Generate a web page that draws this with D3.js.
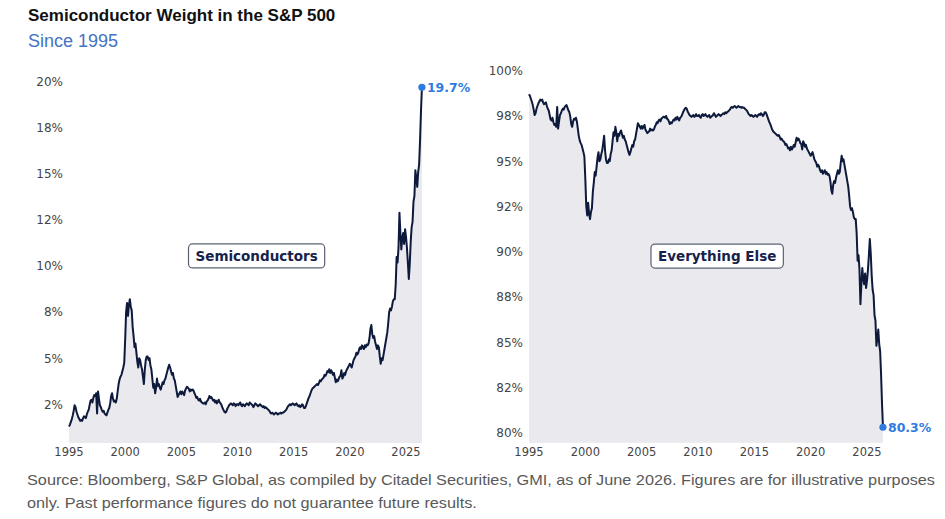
<!DOCTYPE html>
<html lang="en">
<head>
<meta charset="utf-8">
<title>Semiconductor Weight in the S&amp;P 500</title>
<script src="https://d3js.org/d3.v7.min.js"></script>
<style>
  body { margin: 0; background: #fff; }
  svg { display: block; }
  .tick-label { font-family: "DejaVu Sans", sans-serif; fill: #444; }
  .title { font-family: "Liberation Sans", Arial, sans-serif; font-weight: bold; fill: #111; }
  .subtitle { font-family: "Liberation Sans", Arial, sans-serif; fill: #4472c4; }
  .source { font-family: "Liberation Sans", Arial, sans-serif; fill: #595959; }
</style>
</head>
<body>
<script>
var width = 945,
    height = 519;

// monthly series, first value = Jan 1995
var startYear = 1995;

// Semiconductor weight in the S&P 500 (%)
var semis = [
  1.3, 1.4, 1.55, 1.7, 1.9, 2.15, 2.45, 2.35, 2.1, 1.95, 1.8, 1.7,        // 1995
  1.6, 1.65, 1.6, 1.75, 1.85, 1.8, 1.75, 1.95, 2.1, 2.2, 2.45, 2.7,      // 1996
  2.75, 2.6, 2.85, 3.0, 2.95, 3.1, 2.0, 3.2, 2.8, 2.45, 2.35, 2.2,       // 1997
  2.1, 2.15, 2.0, 1.95, 1.9, 2.05, 2.2, 2.3, 2.55, 2.95, 3.1, 2.8,       // 1998
  2.65, 2.7, 2.6, 2.8, 3.2, 3.6, 3.85, 4.0, 4.1, 4.3, 4.5, 4.75,         // 1999
  6.0, 7.5, 8.0, 7.3, 7.9, 8.2, 7.8, 7.6, 6.7, 6.2, 5.6, 5.8,            // 2000
  5.3, 4.8, 4.5, 5.0, 4.9, 4.6, 4.4, 4.0, 3.6, 4.4, 4.9, 5.1,            // 2001
  5.1, 4.9, 5.0, 4.6, 4.4, 3.9, 3.4, 3.6, 3.1, 3.4, 3.9, 3.5,            // 2002
  3.6, 3.4, 3.3, 3.5, 3.7, 3.6, 3.8, 3.9, 4.1, 4.3, 4.5, 4.65,           // 2003
  4.5, 4.3, 4.1, 4.2, 3.9, 3.8, 3.5, 3.2, 2.9, 3.0, 3.1, 3.2,            // 2004
  3.05, 3.2, 3.1, 3.0, 3.25, 3.35, 3.45, 3.4, 3.35, 3.2, 3.3, 3.25,      // 2005
  3.3, 3.25, 3.1, 3.0, 2.85, 2.9, 2.75, 2.7, 2.8, 2.65, 2.6, 2.55,       // 2006
  2.55, 2.6, 2.5, 2.65, 2.7, 2.8, 2.95, 2.85, 2.9, 2.8, 2.7, 2.75,       // 2007
  2.6, 2.7, 2.55, 2.65, 2.75, 2.6, 2.55, 2.45, 2.3, 2.2, 2.1, 2.05,      // 2008
  2.1, 2.25, 2.35, 2.45, 2.5, 2.55, 2.5, 2.45, 2.55, 2.5, 2.4, 2.5,      // 2009
  2.5, 2.45, 2.55, 2.6, 2.45, 2.4, 2.5, 2.45, 2.4, 2.5, 2.55, 2.5,       // 2010
  2.45, 2.6, 2.55, 2.5, 2.45, 2.35, 2.45, 2.55, 2.5, 2.45, 2.4, 2.45,    // 2011
  2.5, 2.45, 2.4, 2.35, 2.4, 2.3, 2.35, 2.3, 2.25, 2.2, 2.15, 2.05,      // 2012
  2.0, 2.05, 2.0, 1.95, 2.0, 2.05, 2.0, 1.95, 2.0, 2.0, 2.05, 2.0,       // 2013
  2.05, 2.05, 2.1, 2.15, 2.2, 2.3, 2.4, 2.45, 2.5, 2.45, 2.5, 2.55,      // 2014
  2.5, 2.45, 2.5, 2.55, 2.45, 2.4, 2.45, 2.35, 2.4, 2.5, 2.45, 2.3,      // 2015
  2.3, 2.4, 2.55, 2.7, 2.85, 2.95, 3.1, 3.25, 3.35, 3.4, 3.45, 3.5,      // 2016
  3.55, 3.6, 3.55, 3.65, 3.8, 3.75, 3.85, 3.9, 3.95, 4.1, 4.05, 4.15,    // 2017
  4.3, 4.25, 4.4, 4.2, 4.35, 4.25, 4.1, 4.2, 3.95, 3.7, 3.85, 3.75,      // 2018
  3.85, 4.0, 4.05, 4.35, 3.9, 4.0, 4.2, 4.1, 4.3, 4.4, 4.5, 4.6,         // 2019
  4.7, 4.6, 4.5, 4.7, 4.9, 5.0, 5.1, 5.3, 5.2, 5.3, 5.5, 5.6,            // 2020
  5.5, 5.7, 5.6, 5.5, 5.7, 5.6, 5.75, 5.7, 5.8, 6.1, 6.6, 6.8,           // 2021
  6.3, 6.1, 6.2, 5.9, 5.7, 5.5, 5.7, 5.6, 5.1, 4.7, 5.0, 4.9,            // 2022
  5.2, 5.5, 5.8, 6.1, 6.4, 6.9, 7.5, 7.7, 7.6, 7.8, 8.1, 8.2,            // 2023
  8.2, 9.0, 10.5, 10.2, 11.0, 12.9, 11.8, 10.9, 11.5, 11.8, 11.2, 12.0,  // 2024
  11.6, 11.0, 10.2, 9.3, 10.1, 11.3, 12.1, 12.4, 13.5, 13.8, 15.2, 14.8, // 2025
  14.3, 15.1, 15.5, 16.8, 18.4, 19.7                                     // 2026
];

// Everything else in the S&P 500 (%)
var everythingElse = [
  98.7, 98.6, 98.45, 98.3, 98.1, 97.85, 97.55, 97.65, 97.9, 98.05, 98.2, 98.3,
  98.4, 98.35, 98.4, 98.25, 98.15, 98.2, 98.25, 98.05, 97.9, 97.8, 97.55, 97.3,
  97.25, 97.4, 97.15, 97.0, 97.05, 96.9, 98.0, 96.8, 97.2, 97.55, 97.65, 97.8,
  97.9, 97.85, 98.0, 98.05, 98.1, 97.95, 97.8, 97.7, 97.45, 97.05, 96.9, 97.2,
  97.35, 97.3, 97.4, 97.2, 96.8, 96.4, 96.15, 96.0, 95.9, 95.7, 95.5, 95.25,
  94.0, 92.5, 92.0, 92.7, 92.1, 91.8, 92.2, 92.4, 93.3, 93.8, 94.4, 94.2,
  94.7, 95.2, 95.5, 95.0, 95.1, 95.4, 95.6, 96.0, 96.4, 95.6, 95.1, 94.9,
  94.9, 95.1, 95.0, 95.4, 95.6, 96.1, 96.6, 96.4, 96.9, 96.6, 96.1, 96.5,
  96.4, 96.6, 96.7, 96.5, 96.3, 96.4, 96.2, 96.1, 95.9, 95.7, 95.5, 95.35,
  95.5, 95.7, 95.9, 95.8, 96.1, 96.2, 96.5, 96.8, 97.1, 97.0, 96.9, 96.8,
  96.95, 96.8, 96.9, 97.0, 96.75, 96.65, 96.55, 96.6, 96.65, 96.8, 96.7, 96.75,
  96.7, 96.75, 96.9, 97.0, 97.15, 97.1, 97.25, 97.3, 97.2, 97.35, 97.4, 97.45,
  97.45, 97.4, 97.5, 97.35, 97.3, 97.2, 97.05, 97.15, 97.1, 97.2, 97.3, 97.25,
  97.4, 97.3, 97.45, 97.35, 97.25, 97.4, 97.45, 97.55, 97.7, 97.8, 97.9, 97.95,
  97.9, 97.75, 97.65, 97.55, 97.5, 97.45, 97.5, 97.55, 97.45, 97.5, 97.6, 97.5,
  97.5, 97.55, 97.45, 97.4, 97.55, 97.6, 97.5, 97.55, 97.6, 97.5, 97.45, 97.5,
  97.55, 97.4, 97.45, 97.5, 97.55, 97.65, 97.55, 97.45, 97.5, 97.55, 97.6, 97.55,
  97.5, 97.55, 97.6, 97.65, 97.6, 97.7, 97.65, 97.7, 97.75, 97.8, 97.85, 97.95,
  98.0, 97.95, 98.0, 98.05, 98.0, 97.95, 98.0, 98.05, 98.0, 98.0, 97.95, 98.0,
  97.95, 97.95, 97.9, 97.85, 97.8, 97.7, 97.6, 97.55, 97.5, 97.55, 97.5, 97.45,
  97.5, 97.55, 97.5, 97.45, 97.55, 97.6, 97.55, 97.65, 97.6, 97.5, 97.55, 97.7,
  97.7, 97.6, 97.45, 97.3, 97.15, 97.05, 96.9, 96.75, 96.65, 96.6, 96.55, 96.5,
  96.45, 96.4, 96.45, 96.35, 96.2, 96.25, 96.15, 96.1, 96.05, 95.9, 95.95, 95.85,
  95.7, 95.75, 95.6, 95.8, 95.65, 95.75, 95.9, 95.8, 96.05, 96.3, 96.15, 96.25,
  96.15, 96.0, 95.95, 95.65, 96.1, 96.0, 95.8, 95.9, 95.7, 95.6, 95.5, 95.4,
  95.3, 95.4, 95.5, 95.3, 95.1, 95.0, 94.9, 94.7, 94.8, 94.7, 94.5, 94.4,
  94.5, 94.3, 94.4, 94.5, 94.3, 94.4, 94.25, 94.3, 94.2, 93.9, 93.4, 93.2,
  93.7, 93.9, 93.8, 94.1, 94.3, 94.5, 94.3, 94.4, 94.9, 95.3, 95.0, 95.1,
  94.8, 94.5, 94.2, 93.9, 93.6, 93.1, 92.5, 92.3, 92.4, 92.2, 91.9, 91.8,
  91.8, 91.0, 89.5, 89.8, 89.0, 87.1, 88.2, 89.1, 88.5, 88.2, 88.8, 88.0,
  88.4, 89.0, 89.8, 90.7, 89.9, 88.7, 87.9, 87.6, 86.5, 86.2, 84.8, 85.2,
  85.7, 84.9, 84.5, 83.2, 81.6, 80.3
];

var yearTicks = [1995, 2000, 2005, 2010, 2015, 2020, 2025];
var semisTicks = [2.5, 5, 7.5, 10, 12.5, 15, 17.5, 20];
var semisTickLabels = ["2%", "5%", "8%", "10%", "12%", "15%", "18%", "20%"];
var elseTicks = [80, 82.5, 85, 87.5, 90, 92.5, 95, 97.5, 100];
var elseTickLabels = ["80%", "82%", "85%", "88%", "90%", "92%", "95%", "98%", "100%"];

var titleText = "Semiconductor Weight in the S&P 500";
var subtitleText = "Since 1995";
var sourceLines = [
  "Source: Bloomberg, S&P Global, as compiled by Citadel Securities, GMI, as of June 2026. Figures are for illustrative purposes",
  "only. Past performance figures do not guarantee future results."
];

var dates = semis.map(function(d, i) { return startYear + i / 12; });

var svg = d3.select("body").append("svg")
    .attr("width", width)
    .attr("height", height);

svg.append("text").attr("class", "title")
    .attr("x", 28).attr("y", 21)
    .style("font-size", "17px")
    .text(titleText);

svg.append("text").attr("class", "subtitle")
    .attr("x", 28).attr("y", 46.5)
    .style("font-size", "18px")
    .text(subtitleText);

function drawPanel(opt) {
    var x = d3.scaleLinear().domain([1995, 2025]).range(opt.xRange);
    var y = d3.scaleLinear().domain(opt.yDomain).range(opt.yRange);
    var g = svg.append("g");
    var pts = opt.values.map(function(v, i) { return [dates[i], v]; });

    var area = d3.area()
        .x(function(d) { return x(d[0]); })
        .y0(y(opt.base))
        .y1(function(d) { return y(d[1]); });

    var line = d3.line()
        .x(function(d) { return x(d[0]); })
        .y(function(d) { return y(d[1]); });

    g.append("path")
        .datum(pts)
        .attr("fill", "#e9e9ee")
        .attr("d", area);

    g.append("path")
        .datum(pts)
        .attr("fill", "none")
        .attr("stroke", "#0e1a3c")
        .attr("stroke-width", 2)
        .attr("stroke-linejoin", "round")
        .attr("d", line);

    // y tick labels (no axis line, no tick marks)
    g.selectAll(".ylab")
        .data(opt.yTicks)
        .enter().append("text")
        .attr("class", "tick-label")
        .attr("x", opt.xRange[0] - 6)
        .attr("y", function(d) { return y(d); })
        .attr("dy", "0.36em")
        .attr("text-anchor", "end")
        .style("font-size", "12px")
        .text(function(d, i) { return opt.yLabels[i]; });

    g.selectAll(".xlab")
        .data(yearTicks)
        .enter().append("text")
        .attr("class", "tick-label")
        .attr("x", function(d) { return x(d); })
        .attr("y", 451.7)
        .attr("dy", "0.36em")
        .attr("text-anchor", "middle")
        .style("font-size", "11.5px")
        .text(function(d) { return d; });

    // end point marker
    var last = pts[pts.length - 1];
    g.append("circle")
        .attr("cx", x(last[0]))
        .attr("cy", y(last[1]))
        .attr("r", 3.6)
        .attr("fill", "#2f7be0");

    g.append("text")
        .attr("x", x(last[0]) + 5)
        .attr("y", y(last[1]))
        .attr("dy", "0.36em")
        .attr("fill", "#2f7be0")
        .style("font-family", "'DejaVu Sans', sans-serif")
        .style("font-weight", "bold")
        .style("font-size", "12.5px")
        .text(last[1].toFixed(1) + "%");

    // series name box
    var lg = g.append("g")
        .attr("transform", "translate(" + x(opt.labelAt[0]) + "," + y(opt.labelAt[1]) + ")");
    var rect = lg.append("rect").attr("fill", "#fff")
        .attr("stroke", "#5d6175").attr("stroke-width", 1.2)
        .attr("rx", 4).attr("ry", 4);
    var t = lg.append("text")
        .attr("text-anchor", "middle")
        .attr("dy", "0.36em")
        .attr("fill", "#16224a")
        .style("font-family", "'DejaVu Sans', sans-serif")
        .style("font-weight", "bold")
        .style("font-size", "13.5px")
        .text(opt.name);
    var w = t.node().getComputedTextLength();
    rect.attr("x", -w / 2 - 7).attr("y", -12).attr("width", w + 14).attr("height", 24);
}

drawPanel({
    values: semis,
    xRange: [69, 406],
    yDomain: [0, 20],
    yRange: [450.4, 81.8],
    base: 0.4,
    yTicks: semisTicks,
    yLabels: semisTickLabels,
    name: "Semiconductors",
    labelAt: [2011.7, 10.55]
});

drawPanel({
    values: everythingElse,
    xRange: [529, 867],
    yDomain: [80, 100],
    yRange: [432.7, 70.7],
    base: 79.45,
    yTicks: elseTicks,
    yLabels: elseTickLabels,
    name: "Everything Else",
    labelAt: [2011.7, 89.76]
});

// source note
var src = svg.append("g");
var lineWidths = [908, null];
var s1 = src.append("text").attr("class", "source")
    .attr("x", 27).attr("y", 485)
    .style("font-size", "14.5px")
    .text(sourceLines[0]);
var k = lineWidths[0] / s1.node().getComputedTextLength();
s1.attr("textLength", lineWidths[0]).attr("lengthAdjust", "spacingAndGlyphs");
var s2 = src.append("text").attr("class", "source")
    .attr("x", 27).attr("y", 507.5)
    .style("font-size", "14.5px")
    .text(sourceLines[1]);
s2.attr("textLength", s2.node().getComputedTextLength() * k)
  .attr("lengthAdjust", "spacingAndGlyphs");
</script>
</body>
</html>
